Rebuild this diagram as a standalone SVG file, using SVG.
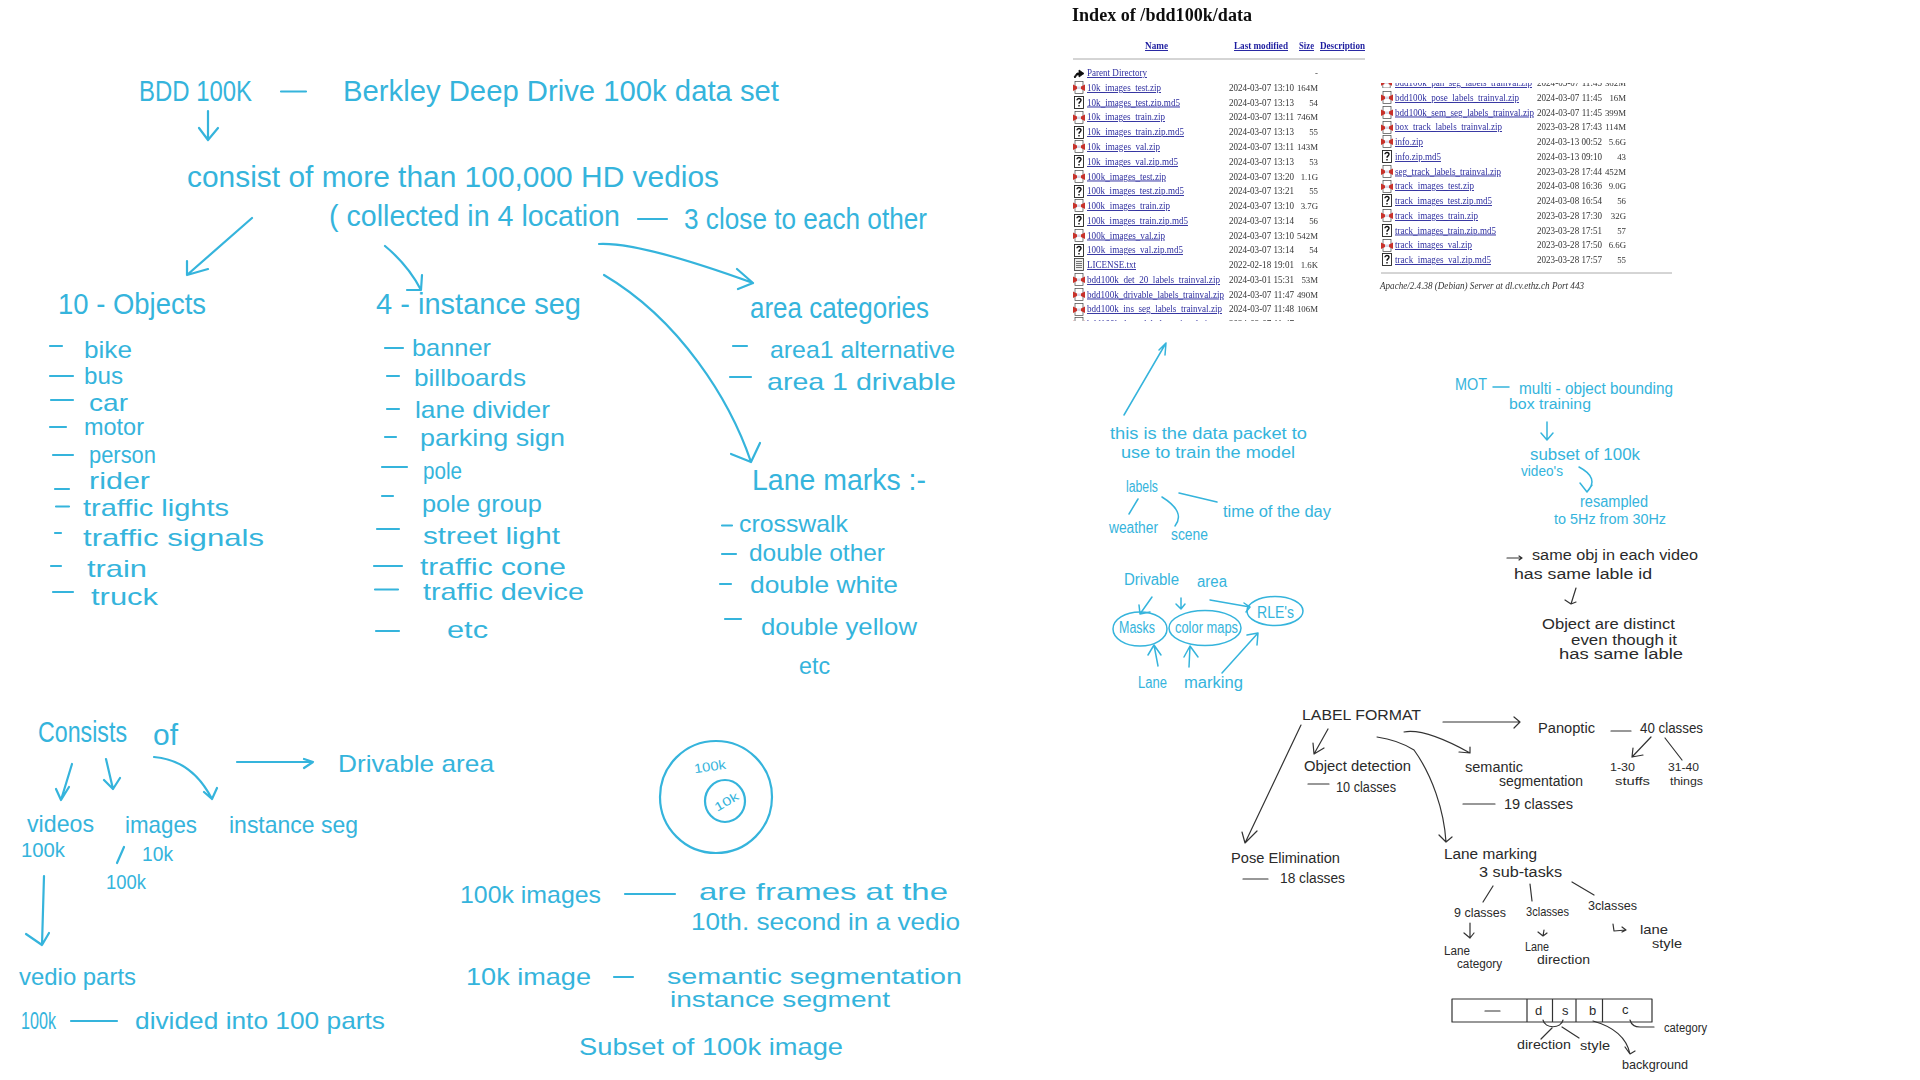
<svg xmlns="http://www.w3.org/2000/svg" xmlns:xlink="http://www.w3.org/1999/xlink" width="1920" height="1080" viewBox="0 0 1920 1080">
<style>
text{font-family:"Liberation Sans",Arial,sans-serif}
.b{fill:#35b4dc;font-size:24px}
.h{fill:#35b4dc;font-size:29px}
.s{fill:#35b4dc;font-size:16px}
.k{fill:#2a2a2a;font-size:14px}
.n{fill:#2a2a2a;font-size:13px}
.ln{fill:none;stroke:#35b4dc;stroke-width:2.2;stroke-linecap:round;stroke-linejoin:round}
.ln2{fill:none;stroke:#35b4dc;stroke-width:1.5;stroke-linecap:round;stroke-linejoin:round}
.lk{fill:none;stroke:#333;stroke-width:1.2;stroke-linecap:round;stroke-linejoin:round}
.t text{font-family:"Liberation Serif","Times New Roman",serif;font-size:9.500px;fill:#333}
.t text[text-anchor="end"]{font-size:8.800px}
.t .a{fill:#2f2fa0;text-decoration:underline}
.t .th{fill:#1f1fa0;font-weight:bold;text-decoration:underline}
.rule{stroke:#aaa;stroke-width:1;fill:none}
</style>
<defs>
<filter id="soft" x="-2%" y="-2%" width="104%" height="104%"><feGaussianBlur stdDeviation="0.3"/></filter>
<clipPath id="cl"><rect x="1060" y="300" width="300" height="21"/></clipPath>
<clipPath id="cr"><rect x="1375" y="83" width="300" height="5"/></clipPath>
<symbol id="zip" viewBox="0 0 12 13"><rect x="2" y="0.5" width="8" height="12" fill="#fff" stroke="#444" stroke-width="0.7"/><path d="M0 3.5L4 5.5V8L0 10ZM12 3.5L8 5.5V8L12 10Z" fill="#c8322c"/><path d="M4 5.5H8V8H4Z" fill="#d8d8e8"/></symbol>
<symbol id="q" viewBox="0 0 12 13"><rect x="1.5" y="0.5" width="9" height="12" fill="#fff" stroke="#222" stroke-width="0.9"/><path d="M4 4.2C4 2 8 2 8 4.3C8 6 6 5.8 6 7.7M6 9V10.4" fill="none" stroke="#111" stroke-width="1.4"/></symbol>
<symbol id="doc" viewBox="0 0 12 13"><rect x="1.5" y="0.5" width="9" height="12" fill="#eee" stroke="#333" stroke-width="0.8"/><path d="M3 3.5H9M3 5.5H9M3 7.5H9M3 9.5H9" stroke="#555" stroke-width="0.8"/></symbol>
<symbol id="up" viewBox="0 0 12 13"><path d="M1 10L4 6H6V3L11 6.5L6 10V8H4L2 11Z" fill="#111" stroke="#111" stroke-width="0.8"/></symbol>
</defs>
<rect width="1920" height="1080" fill="#fff"/>

<g id="connectors">
<path class="ln" d="M208 111V140M199 128L208 140L218 128"/>
<path class="ln" d="M252 218L187 275M187 261L187 275L208 269"/>
<path class="ln" d="M385 246Q408 265 421 290M422 275L421 290L407 290"/>
<path class="ln" d="M599 244Q640 242 753 283M737 269L753 283L738 289"/>
<path class="ln" d="M604 275C680 320 730 400 751 462M731 454L751 462L760 443"/>
<path class="ln" d="M72 764L61 800M56 789L61 800L69 787"/>
<path class="ln" d="M106 759L113 789M104 780L113 789L120 778"/>
<path class="ln" d="M154 757Q192 760 212 799M204 792L212 799L217 788"/>
<path class="ln" d="M237 762H313M304 759L313 762L304 768"/>
<path class="ln" d="M124 847L117 863"/>
<path class="ln" d="M44 876L42 945M26 934L42 945L49 933"/>
<path class="ln2" d="M1124 415L1166 343M1159 350L1166 343L1165 355"/>
<path class="ln2" d="M1138 499L1129 514M1162 497Q1186 512 1175 526M1179 493L1217 502"/>
<path class="ln2" d="M1152 597L1140 614M1139 605L1140 614L1150 612"/>
<path class="ln2" d="M1181 598V609M1176 604L1181 609L1185 604"/>
<path class="ln2" d="M1210 600L1250 607M1244 603L1250 607L1246 612"/>
<path class="ln2" d="M1158 666L1154 645M1148 655L1154 645L1161 655"/>
<path class="ln2" d="M1189 667L1190 646M1184 657L1190 646L1198 657"/>
<path class="ln2" d="M1222 673L1258 633M1247 635L1258 633L1257 645"/>
<path class="ln2" d="M1547 422V440M1541 433L1547 440L1553 433"/>
<path class="ln2" d="M1579 467Q1600 478 1587 492M1580 483L1587 492L1592 485"/>
<path class="lk" d="M1507 558H1522M1519 556L1522 558L1519 560"/>
<path class="lk" d="M1576 588L1571 604M1565 600L1571 604L1576 602"/>
<path class="lk" d="M1443 722H1520M1514 717L1520 722L1514 728"/>
<path class="lk" d="M1651 737L1632 757M1633 748L1632 757L1643 755"/>
<path class="lk" d="M1665 738L1682 760"/>
<path class="lk" d="M1301 725L1245 843M1242 832L1245 843L1257 831"/>
<path class="lk" d="M1328 729L1314 754M1313 743L1314 754L1324 748"/>
<path class="lk" d="M1377 737Q1398 740 1414 750C1432 775 1444 810 1446 842M1439 835L1446 842L1452 837"/>
<path class="lk" d="M1404 732Q1425 728 1470 753M1459 752L1470 753L1470 747"/>
<path class="lk" d="M1493 886L1483 902M1530 884L1532 901M1572 882L1594 895"/>
<path class="lk" d="M1470 923V938M1464 933L1470 938L1474 933"/>
<path class="lk" d="M1544 930L1543 936M1538 932L1543 936L1547 933"/>
<path class="lk" d="M1613 924L1614 931L1626 930M1622 927L1626 930L1622 932"/>
<path class="lk" d="M1543 1020C1545 1029 1561 1029 1563 1020M1552 1028L1541 1039M1562 1027L1579 1038"/>
<path class="lk" d="M1593 1021Q1625 1030 1630 1054M1625 1047L1630 1054L1635 1051"/>
<path class="lk" d="M1630 1020Q1632 1027 1640 1027H1654"/>
</g>

<g id="dashes">
<path class="ln" d="M281 91.500H306M638 219H667M50 346H62M50 376H73M51 400H73M50 427H66M53 455H73M55 489H69M56 506.500H69M55 533H61M51 566H61M53 592H73M385 348H403M387 376H399M387 409H399M385 437H396M382 467H407M382 496H393M377 529H399M374 566H402M375 589.500H398M376 631H399M733 346H747M730 377H751M722 525.500H732M722 554H736M720 584H731M725 619H741M71 1021H117M625 894H675M614 977H633"/>
<path class="ln2" d="M1493 387H1509"/>
<path class="lk" d="M1611 731H1631M1243 879H1268M1308 784H1329M1463 804H1495"/>
</g>

<g id="title-notes" transform="translate(-2 0)">
<text class="h" x="141" y="101" textLength="113" lengthAdjust="spacingAndGlyphs">BDD 100K</text>
<text class="h" x="345" y="101" textLength="436" lengthAdjust="spacingAndGlyphs">Berkley Deep Drive 100k data set</text>
<text class="h" x="189" y="187" textLength="532" lengthAdjust="spacingAndGlyphs">consist of more than 100,000 HD vedios</text>
<text class="h" x="331" y="226" textLength="291" lengthAdjust="spacingAndGlyphs">( collected in 4 location</text>
<text class="h" x="686" y="229" textLength="243" lengthAdjust="spacingAndGlyphs">3 close to each other</text>
</g>

<g id="objects">
<text class="h" x="58" y="314" textLength="148" lengthAdjust="spacingAndGlyphs">10 - Objects</text>
<text class="b" x="84" y="358" textLength="48" lengthAdjust="spacingAndGlyphs">bike</text>
<text class="b" x="84" y="384" textLength="39" lengthAdjust="spacingAndGlyphs">bus</text>
<text class="b" x="89" y="411" textLength="39" lengthAdjust="spacingAndGlyphs">car</text>
<text class="b" x="84" y="435" textLength="60" lengthAdjust="spacingAndGlyphs">motor</text>
<text class="b" x="89" y="463" textLength="67" lengthAdjust="spacingAndGlyphs">person</text>
<text class="b" x="89" y="489" textLength="61" lengthAdjust="spacingAndGlyphs">rider</text>
<text class="b" x="83" y="516" textLength="146" lengthAdjust="spacingAndGlyphs">traffic lights</text>
<text class="b" x="83" y="546" textLength="181" lengthAdjust="spacingAndGlyphs">traffic signals</text>
<text class="b" x="87" y="577" textLength="60" lengthAdjust="spacingAndGlyphs">train</text>
<text class="b" x="91" y="605" textLength="67" lengthAdjust="spacingAndGlyphs">truck</text>
</g>

<g id="instance-seg" transform="translate(-4 0)">
<text class="h" x="380" y="314" textLength="205" lengthAdjust="spacingAndGlyphs">4 - instance seg</text>
<text class="b" x="416" y="356" textLength="79" lengthAdjust="spacingAndGlyphs">banner</text>
<text class="b" x="418" y="386" textLength="112" lengthAdjust="spacingAndGlyphs">billboards</text>
<text class="b" x="419" y="418" textLength="135" lengthAdjust="spacingAndGlyphs">lane divider</text>
<text class="b" x="424" y="446" textLength="145" lengthAdjust="spacingAndGlyphs">parking sign</text>
<text class="b" x="427" y="479" textLength="39" lengthAdjust="spacingAndGlyphs">pole</text>
<text class="b" x="426" y="512" textLength="120" lengthAdjust="spacingAndGlyphs">pole group</text>
<text class="b" x="427" y="544" textLength="137" lengthAdjust="spacingAndGlyphs">street light</text>
<text class="b" x="424" y="575" textLength="146" lengthAdjust="spacingAndGlyphs">traffic cone</text>
<text class="b" x="427" y="600" textLength="161" lengthAdjust="spacingAndGlyphs">traffic device</text>
<text class="b" x="451" y="638" textLength="41" lengthAdjust="spacingAndGlyphs">etc</text>
</g>

<g id="area-categories" transform="translate(-6 0)">
<text class="h" x="756" y="318" textLength="179" lengthAdjust="spacingAndGlyphs">area categories</text>
<text class="b" x="776" y="358" textLength="185" lengthAdjust="spacingAndGlyphs">area1 alternative</text>
<text class="b" x="773" y="390" textLength="189" lengthAdjust="spacingAndGlyphs">area 1 drivable</text>
</g>

<g id="lane-marks" transform="translate(-5 0)">
<text class="h" x="757" y="490" textLength="174" lengthAdjust="spacingAndGlyphs">Lane marks :-</text>
<text class="b" x="744" y="532" textLength="109" lengthAdjust="spacingAndGlyphs">crosswalk</text>
<text class="b" x="754" y="561" textLength="136" lengthAdjust="spacingAndGlyphs">double other</text>
<text class="b" x="755" y="593" textLength="148" lengthAdjust="spacingAndGlyphs">double white</text>
<text class="b" x="766" y="635" textLength="156" lengthAdjust="spacingAndGlyphs">double yellow</text>
<text class="b" x="804" y="674" textLength="31" lengthAdjust="spacingAndGlyphs">etc</text>
</g>

<g id="consists-of">
<text class="h" x="38" y="742" textLength="89" lengthAdjust="spacingAndGlyphs">Consists</text>
<text class="h" x="153" y="745" textLength="25" lengthAdjust="spacingAndGlyphs">of</text>
<text class="b" x="338" y="772" textLength="156" lengthAdjust="spacingAndGlyphs">Drivable area</text>
<text class="b" x="27" y="832" textLength="67" lengthAdjust="spacingAndGlyphs">videos</text>
<text class="b" x="125" y="833" textLength="72" lengthAdjust="spacingAndGlyphs">images</text>
<text class="b" x="229" y="833" textLength="129" lengthAdjust="spacingAndGlyphs">instance seg</text>
<text class="b" x="21" y="857" textLength="44" lengthAdjust="spacingAndGlyphs" style="font-size:21px">100k</text>
<text class="b" x="142" y="861" textLength="31" lengthAdjust="spacingAndGlyphs" style="font-size:21px">10k</text>
<text class="b" x="106" y="889" textLength="40" lengthAdjust="spacingAndGlyphs" style="font-size:21px">100k</text>
<text class="b" x="19" y="985" textLength="117" lengthAdjust="spacingAndGlyphs">vedio parts</text>
<text class="b" x="21" y="1029" textLength="35" lengthAdjust="spacingAndGlyphs">100k</text>
<text class="b" x="135" y="1029" textLength="250" lengthAdjust="spacingAndGlyphs">divided into 100 parts</text>
</g>

<g id="subset-circles">
<ellipse class="ln" cx="716" cy="797" rx="56" ry="56"/>
<ellipse class="ln" cx="725" cy="801" rx="20" ry="21"/>
<text class="s" x="694" y="771" textLength="32" lengthAdjust="spacingAndGlyphs" transform="rotate(-8 710 767)" style="font-size:13px">100k</text>
<text class="s" x="713" y="806" textLength="26" lengthAdjust="spacingAndGlyphs" transform="rotate(-30 726 801)" style="font-size:12px">10k</text>
</g>

<g id="image-notes" transform="translate(-4 0)">
<text class="b" x="464" y="903" textLength="141" lengthAdjust="spacingAndGlyphs">100k images</text>
<text class="b" x="703" y="900" textLength="249" lengthAdjust="spacingAndGlyphs">are frames at the</text>
<text class="b" x="695" y="930" textLength="269" lengthAdjust="spacingAndGlyphs">10th. second in a vedio</text>
<text class="b" x="470" y="985" textLength="125" lengthAdjust="spacingAndGlyphs">10k image</text>
<text class="b" x="671" y="984" textLength="295" lengthAdjust="spacingAndGlyphs" style="font-size:22px">semantic segmentation</text>
<text class="b" x="674" y="1007" textLength="220" lengthAdjust="spacingAndGlyphs" style="font-size:22px">instance segment</text>
<text class="b" x="583" y="1055" textLength="264" lengthAdjust="spacingAndGlyphs">Subset of 100k image</text>
</g>

<g id="data-listing" class="t" filter="url(#soft)">
<text x="1072" y="21" textLength="180" lengthAdjust="spacingAndGlyphs" style="font-size:18px;font-weight:bold;fill:#111">Index of /bdd100k/data</text>
<text class="th" x="1145" y="49" textLength="23" lengthAdjust="spacingAndGlyphs">Name</text>
<text class="th" x="1234" y="49" textLength="54" lengthAdjust="spacingAndGlyphs">Last modified</text>
<text class="th" x="1299" y="49" textLength="15" lengthAdjust="spacingAndGlyphs">Size</text>
<text class="th" x="1320" y="49" textLength="45" lengthAdjust="spacingAndGlyphs">Description</text>
<path class="rule" d="M1073 59H1365M1381 273H1672"/>
<use xlink:href="#up" href="#up" x="1073" y="67" width="12" height="13"/>
<text class="a" x="1087" y="76" textLength="60" lengthAdjust="spacingAndGlyphs">Parent Directory</text>
<text x="1318" y="76" text-anchor="end">-</text>
<g id="rows-left">
<use href="#zip" x="1073" y="81" width="12" height="13"/><text class="a" x="1087" y="91" textLength="74" lengthAdjust="spacingAndGlyphs">10k_images_test.zip</text><text x="1229" y="91" textLength="65" lengthAdjust="spacingAndGlyphs">2024-03-07 13:10</text><text x="1318" y="91" text-anchor="end">164M</text>
<use href="#q" x="1073" y="96" width="12" height="13"/><text class="a" x="1087" y="105.500" textLength="93" lengthAdjust="spacingAndGlyphs">10k_images_test.zip.md5</text><text x="1229" y="105.500" textLength="65" lengthAdjust="spacingAndGlyphs">2024-03-07 13:13</text><text x="1318" y="105.500" text-anchor="end">54</text>
<use href="#zip" x="1073" y="111" width="12" height="13"/><text class="a" x="1087" y="120" textLength="78" lengthAdjust="spacingAndGlyphs">10k_images_train.zip</text><text x="1229" y="120" textLength="65" lengthAdjust="spacingAndGlyphs">2024-03-07 13:11</text><text x="1318" y="120" text-anchor="end">746M</text>
<use href="#q" x="1073" y="126" width="12" height="13"/><text class="a" x="1087" y="135" textLength="97" lengthAdjust="spacingAndGlyphs">10k_images_train.zip.md5</text><text x="1229" y="135" textLength="65" lengthAdjust="spacingAndGlyphs">2024-03-07 13:13</text><text x="1318" y="135" text-anchor="end">55</text>
<use href="#zip" x="1073" y="140" width="12" height="13"/><text class="a" x="1087" y="150" textLength="73" lengthAdjust="spacingAndGlyphs">10k_images_val.zip</text><text x="1229" y="150" textLength="65" lengthAdjust="spacingAndGlyphs">2024-03-07 13:11</text><text x="1318" y="150" text-anchor="end">143M</text>
<use href="#q" x="1073" y="155" width="12" height="13"/><text class="a" x="1087" y="165" textLength="91" lengthAdjust="spacingAndGlyphs">10k_images_val.zip.md5</text><text x="1229" y="165" textLength="65" lengthAdjust="spacingAndGlyphs">2024-03-07 13:13</text><text x="1318" y="165" text-anchor="end">53</text>
<use href="#zip" x="1073" y="170" width="12" height="13"/><text class="a" x="1087" y="179.500" textLength="79" lengthAdjust="spacingAndGlyphs">100k_images_test.zip</text><text x="1229" y="179.500" textLength="65" lengthAdjust="spacingAndGlyphs">2024-03-07 13:20</text><text x="1318" y="179.500" text-anchor="end">1.1G</text>
<use href="#q" x="1073" y="185" width="12" height="13"/><text class="a" x="1087" y="194" textLength="97" lengthAdjust="spacingAndGlyphs">100k_images_test.zip.md5</text><text x="1229" y="194" textLength="65" lengthAdjust="spacingAndGlyphs">2024-03-07 13:21</text><text x="1318" y="194" text-anchor="end">55</text>
<use href="#zip" x="1073" y="199" width="12" height="13"/><text class="a" x="1087" y="209" textLength="83" lengthAdjust="spacingAndGlyphs">100k_images_train.zip</text><text x="1229" y="209" textLength="65" lengthAdjust="spacingAndGlyphs">2024-03-07 13:10</text><text x="1318" y="209" text-anchor="end">3.7G</text>
<use href="#q" x="1073" y="214" width="12" height="13"/><text class="a" x="1087" y="224" textLength="101" lengthAdjust="spacingAndGlyphs">100k_images_train.zip.md5</text><text x="1229" y="224" textLength="65" lengthAdjust="spacingAndGlyphs">2024-03-07 13:14</text><text x="1318" y="224" text-anchor="end">56</text>
<use href="#zip" x="1073" y="229" width="12" height="13"/><text class="a" x="1087" y="238.500" textLength="78" lengthAdjust="spacingAndGlyphs">100k_images_val.zip</text><text x="1229" y="238.500" textLength="65" lengthAdjust="spacingAndGlyphs">2024-03-07 13:10</text><text x="1318" y="238.500" text-anchor="end">542M</text>
<use href="#q" x="1073" y="244" width="12" height="13"/><text class="a" x="1087" y="253" textLength="96" lengthAdjust="spacingAndGlyphs">100k_images_val.zip.md5</text><text x="1229" y="253" textLength="65" lengthAdjust="spacingAndGlyphs">2024-03-07 13:14</text><text x="1318" y="253" text-anchor="end">54</text>
<use href="#doc" x="1073" y="258" width="12" height="13"/><text class="a" x="1087" y="268" textLength="49" lengthAdjust="spacingAndGlyphs">LICENSE.txt</text><text x="1229" y="268" textLength="65" lengthAdjust="spacingAndGlyphs">2022-02-18 19:01</text><text x="1318" y="268" text-anchor="end">1.6K</text>
<use href="#zip" x="1073" y="273" width="12" height="13"/><text class="a" x="1087" y="283" textLength="133" lengthAdjust="spacingAndGlyphs">bdd100k_det_20_labels_trainval.zip</text><text x="1229" y="283" textLength="65" lengthAdjust="spacingAndGlyphs">2024-03-01 15:31</text><text x="1318" y="283" text-anchor="end">53M</text>
<use href="#zip" x="1073" y="288" width="12" height="13"/><text class="a" x="1087" y="297.500" textLength="137" lengthAdjust="spacingAndGlyphs">bdd100k_drivable_labels_trainval.zip</text><text x="1229" y="297.500" textLength="65" lengthAdjust="spacingAndGlyphs">2024-03-07 11:47</text><text x="1318" y="297.500" text-anchor="end">490M</text>
<use href="#zip" x="1073" y="303" width="12" height="13"/><text class="a" x="1087" y="312" textLength="135" lengthAdjust="spacingAndGlyphs">bdd100k_ins_seg_labels_trainval.zip</text><text x="1229" y="312" textLength="65" lengthAdjust="spacingAndGlyphs">2024-03-07 11:48</text><text x="1318" y="312" text-anchor="end">106M</text>
<g clip-path="url(#cl)"><use href="#zip" x="1073" y="317" width="12" height="13"/><text class="a" x="1087" y="327" textLength="125" lengthAdjust="spacingAndGlyphs">bdd100k_lane_labels_trainval.zip</text><text x="1229" y="327" textLength="65" lengthAdjust="spacingAndGlyphs">2024-03-07 11:47</text><text x="1318" y="327" text-anchor="end">425M</text></g>
</g>
<g id="rows-right">
<g clip-path="url(#cr)"><use href="#zip" x="1381" y="76" width="11" height="13"/><text class="a" x="1395" y="86" textLength="137" lengthAdjust="spacingAndGlyphs">bdd100k_pan_seg_labels_trainval.zip</text><text x="1537" y="86" textLength="65" lengthAdjust="spacingAndGlyphs">2024-03-07 11:45</text><text x="1626" y="86" text-anchor="end">362M</text></g>
<use href="#zip" x="1381" y="91" width="12" height="13"/><text class="a" x="1395" y="101" textLength="124" lengthAdjust="spacingAndGlyphs">bdd100k_pose_labels_trainval.zip</text><text x="1537" y="101" textLength="65" lengthAdjust="spacingAndGlyphs">2024-03-07 11:45</text><text x="1626" y="101" text-anchor="end">16M</text>
<use href="#zip" x="1381" y="106" width="12" height="13"/><text class="a" x="1395" y="115.500" textLength="139" lengthAdjust="spacingAndGlyphs">bdd100k_sem_seg_labels_trainval.zip</text><text x="1537" y="115.500" textLength="65" lengthAdjust="spacingAndGlyphs">2024-03-07 11:45</text><text x="1626" y="115.500" text-anchor="end">399M</text>
<use href="#zip" x="1381" y="121" width="12" height="13"/><text class="a" x="1395" y="130" textLength="107" lengthAdjust="spacingAndGlyphs">box_track_labels_trainval.zip</text><text x="1537" y="130" textLength="65" lengthAdjust="spacingAndGlyphs">2023-03-28 17:43</text><text x="1626" y="130" text-anchor="end">114M</text>
<use href="#zip" x="1381" y="135" width="12" height="13"/><text class="a" x="1395" y="145" textLength="28" lengthAdjust="spacingAndGlyphs">info.zip</text><text x="1537" y="145" textLength="65" lengthAdjust="spacingAndGlyphs">2024-03-13 00:52</text><text x="1626" y="145" text-anchor="end">5.6G</text>
<use href="#q" x="1381" y="150" width="12" height="13"/><text class="a" x="1395" y="160" textLength="46" lengthAdjust="spacingAndGlyphs">info.zip.md5</text><text x="1537" y="160" textLength="65" lengthAdjust="spacingAndGlyphs">2024-03-13 09:10</text><text x="1626" y="160" text-anchor="end">43</text>
<use href="#zip" x="1381" y="165" width="12" height="13"/><text class="a" x="1395" y="174.500" textLength="106" lengthAdjust="spacingAndGlyphs">seg_track_labels_trainval.zip</text><text x="1537" y="174.500" textLength="65" lengthAdjust="spacingAndGlyphs">2023-03-28 17:44</text><text x="1626" y="174.500" text-anchor="end">452M</text>
<use href="#zip" x="1381" y="180" width="12" height="13"/><text class="a" x="1395" y="189" textLength="79" lengthAdjust="spacingAndGlyphs">track_images_test.zip</text><text x="1537" y="189" textLength="65" lengthAdjust="spacingAndGlyphs">2024-03-08 16:36</text><text x="1626" y="189" text-anchor="end">9.0G</text>
<use href="#q" x="1381" y="194" width="12" height="13"/><text class="a" x="1395" y="204" textLength="97" lengthAdjust="spacingAndGlyphs">track_images_test.zip.md5</text><text x="1537" y="204" textLength="65" lengthAdjust="spacingAndGlyphs">2024-03-08 16:54</text><text x="1626" y="204" text-anchor="end">56</text>
<use href="#zip" x="1381" y="209" width="12" height="13"/><text class="a" x="1395" y="219" textLength="83" lengthAdjust="spacingAndGlyphs">track_images_train.zip</text><text x="1537" y="219" textLength="65" lengthAdjust="spacingAndGlyphs">2023-03-28 17:30</text><text x="1626" y="219" text-anchor="end">32G</text>
<use href="#q" x="1381" y="224" width="12" height="13"/><text class="a" x="1395" y="233.500" textLength="101" lengthAdjust="spacingAndGlyphs">track_images_train.zip.md5</text><text x="1537" y="233.500" textLength="65" lengthAdjust="spacingAndGlyphs">2023-03-28 17:51</text><text x="1626" y="233.500" text-anchor="end">57</text>
<use href="#zip" x="1381" y="239" width="12" height="13"/><text class="a" x="1395" y="248" textLength="77" lengthAdjust="spacingAndGlyphs">track_images_val.zip</text><text x="1537" y="248" textLength="65" lengthAdjust="spacingAndGlyphs">2023-03-28 17:50</text><text x="1626" y="248" text-anchor="end">6.6G</text>
<use href="#q" x="1381" y="253" width="12" height="13"/><text class="a" x="1395" y="263" textLength="96" lengthAdjust="spacingAndGlyphs">track_images_val.zip.md5</text><text x="1537" y="263" textLength="65" lengthAdjust="spacingAndGlyphs">2023-03-28 17:57</text><text x="1626" y="263" text-anchor="end">55</text>
</g>
<text x="1380" y="289" textLength="204" lengthAdjust="spacingAndGlyphs" style="font-style:italic">Apache/2.4.38 (Debian) Server at dl.cv.ethz.ch Port 443</text>
</g>

<g id="labels-note">
<text class="s" x="1110" y="439" textLength="197" lengthAdjust="spacingAndGlyphs">this is the data packet to</text>
<text class="s" x="1121" y="458" textLength="174" lengthAdjust="spacingAndGlyphs">use to train the model</text>
<text class="s" x="1126" y="492" textLength="32" lengthAdjust="spacingAndGlyphs">labels</text>
<text class="s" x="1109" y="533" textLength="49" lengthAdjust="spacingAndGlyphs">weather</text>
<text class="s" x="1171" y="540" textLength="37" lengthAdjust="spacingAndGlyphs">scene</text>
<text class="s" x="1223" y="517" textLength="108" lengthAdjust="spacingAndGlyphs">time of the day</text>
</g>

<g id="drivable-area">
<text class="s" x="1124" y="585" textLength="55" lengthAdjust="spacingAndGlyphs">Drivable</text>
<text class="s" x="1197" y="587" textLength="30" lengthAdjust="spacingAndGlyphs">area</text>
<ellipse class="ln2" cx="1140" cy="629" rx="27" ry="17"/>
<ellipse class="ln2" cx="1205" cy="628" rx="36" ry="17.500"/>
<ellipse class="ln2" cx="1275" cy="611" rx="28" ry="14.500"/>
<text class="s" x="1119" y="633" textLength="36" lengthAdjust="spacingAndGlyphs">Masks</text>
<text class="s" x="1175" y="633" textLength="63" lengthAdjust="spacingAndGlyphs">color maps</text>
<text class="s" x="1257" y="618" textLength="37" lengthAdjust="spacingAndGlyphs">RLE's</text>
<text class="s" x="1138" y="688" textLength="29" lengthAdjust="spacingAndGlyphs">Lane</text>
<text class="s" x="1184" y="688" textLength="59" lengthAdjust="spacingAndGlyphs">marking</text>
</g>

<g id="mot">
<text class="s" x="1455" y="390" textLength="32" lengthAdjust="spacingAndGlyphs">MOT</text>
<text class="s" x="1519" y="394" textLength="154" lengthAdjust="spacingAndGlyphs">multi - object bounding</text>
<text class="s" x="1509" y="409" textLength="82" lengthAdjust="spacingAndGlyphs" style="font-size:14px">box training</text>
<text class="s" x="1530" y="460" textLength="110" lengthAdjust="spacingAndGlyphs">subset of 100k</text>
<text class="s" x="1521" y="476" textLength="42" lengthAdjust="spacingAndGlyphs" style="font-size:14px">video's</text>
<text class="s" x="1580" y="507" textLength="68" lengthAdjust="spacingAndGlyphs">resampled</text>
<text class="s" x="1554" y="524" textLength="112" lengthAdjust="spacingAndGlyphs" style="font-size:14px">to 5Hz from 30Hz</text>
<text class="k" x="1532" y="560" textLength="166" lengthAdjust="spacingAndGlyphs">same obj in each video</text>
<text class="k" x="1514" y="579" textLength="138" lengthAdjust="spacingAndGlyphs">has same lable id</text>
<text class="k" x="1542" y="629" textLength="133" lengthAdjust="spacingAndGlyphs">Object are distinct</text>
<text class="k" x="1571" y="645" textLength="106" lengthAdjust="spacingAndGlyphs">even though it</text>
<text class="k" x="1559" y="659" textLength="124" lengthAdjust="spacingAndGlyphs">has same lable</text>
</g>

<g id="label-format">
<text class="k" x="1302" y="720" textLength="119" lengthAdjust="spacingAndGlyphs">LABEL FORMAT</text>
<text class="k" x="1538" y="733" textLength="57" lengthAdjust="spacingAndGlyphs">Panoptic</text>
<text class="k" x="1640" y="733" textLength="63" lengthAdjust="spacingAndGlyphs">40 classes</text>
<text class="n" x="1610" y="771" textLength="25" lengthAdjust="spacingAndGlyphs" style="font-size:11px">1-30</text>
<text class="n" x="1615" y="785" textLength="35" lengthAdjust="spacingAndGlyphs" style="font-size:11px">stuffs</text>
<text class="n" x="1668" y="771" textLength="31" lengthAdjust="spacingAndGlyphs" style="font-size:11px">31-40</text>
<text class="n" x="1670" y="785" textLength="33" lengthAdjust="spacingAndGlyphs" style="font-size:11px">things</text>
<text class="k" x="1231" y="863" textLength="109" lengthAdjust="spacingAndGlyphs">Pose Elimination</text>
<text class="k" x="1280" y="883" textLength="65" lengthAdjust="spacingAndGlyphs">18 classes</text>
<text class="k" x="1304" y="771" textLength="107" lengthAdjust="spacingAndGlyphs">Object detection</text>
<text class="k" x="1336" y="792" textLength="60" lengthAdjust="spacingAndGlyphs">10 classes</text>
<text class="k" x="1465" y="772" textLength="58" lengthAdjust="spacingAndGlyphs">semantic</text>
<text class="k" x="1499" y="786" textLength="84" lengthAdjust="spacingAndGlyphs">segmentation</text>
<text class="k" x="1504" y="809" textLength="69" lengthAdjust="spacingAndGlyphs">19 classes</text>
<text class="k" x="1444" y="859" textLength="93" lengthAdjust="spacingAndGlyphs">Lane marking</text>
<text class="k" x="1479" y="877" textLength="83" lengthAdjust="spacingAndGlyphs">3 sub-tasks</text>
<text class="n" x="1454" y="917" textLength="52" lengthAdjust="spacingAndGlyphs">9 classes</text>
<text class="n" x="1526" y="916" textLength="43" lengthAdjust="spacingAndGlyphs">3classes</text>
<text class="n" x="1588" y="910" textLength="49" lengthAdjust="spacingAndGlyphs">3classes</text>
<text class="n" x="1640" y="934" textLength="28" lengthAdjust="spacingAndGlyphs">lane</text>
<text class="n" x="1652" y="948" textLength="30" lengthAdjust="spacingAndGlyphs">style</text>
<text class="n" x="1444" y="955" textLength="26" lengthAdjust="spacingAndGlyphs" style="font-size:12px">Lane</text>
<text class="n" x="1457" y="968" textLength="45" lengthAdjust="spacingAndGlyphs" style="font-size:12px">category</text>
<text class="n" x="1525" y="951" textLength="24" lengthAdjust="spacingAndGlyphs" style="font-size:12px">Lane</text>
<text class="n" x="1537" y="964" textLength="53" lengthAdjust="spacingAndGlyphs" style="font-size:12px">direction</text>
</g>

<g id="lane-code-box">
<path class="lk" d="M1452 999H1652V1022H1452ZM1527 999V1022M1552.500 999V1022M1576 999V1022M1602.500 999V1022M1485 1011H1500"/>
<text class="n" x="1535" y="1015">d</text>
<text class="n" x="1562" y="1015">s</text>
<text class="n" x="1589" y="1015">b</text>
<text class="n" x="1622" y="1014">c</text>
<text class="n" x="1517" y="1049" textLength="54" lengthAdjust="spacingAndGlyphs">direction</text>
<text class="n" x="1580" y="1050" textLength="30" lengthAdjust="spacingAndGlyphs">style</text>
<text class="n" x="1622" y="1069" textLength="66" lengthAdjust="spacingAndGlyphs">background</text>
<text class="n" x="1664" y="1032" textLength="43" lengthAdjust="spacingAndGlyphs" style="font-size:12px">category</text>
</g>
</svg>
